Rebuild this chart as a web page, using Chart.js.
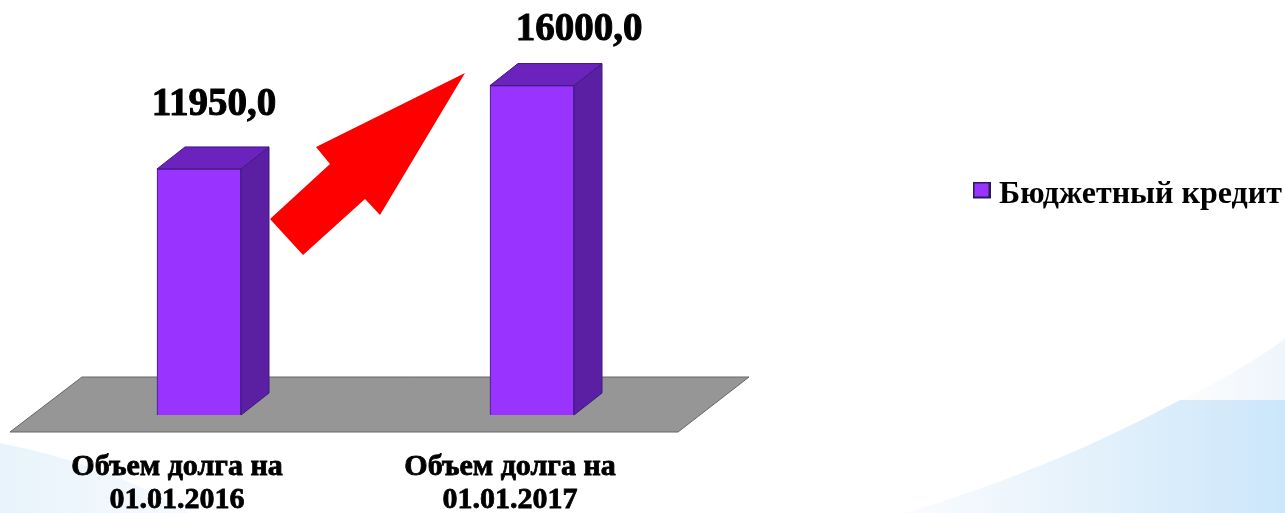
<!DOCTYPE html>
<html>
<head>
<meta charset="utf-8">
<style>
  html, body {margin: 0; padding: 0; background: #fff; overflow: hidden}
  #wrap {width: 1285px; height: 513px}
</style>
<script src="https://cdn.jsdelivr.net/npm/chart.js@4/dist/chart.umd.min.js"></script>
</head>
<body>
<div id="wrap"><canvas id="chart"></canvas></div>
<script>
const categories = [
  ['Объем долга на', '01.01.2016'],
  ['Объем долга на', '01.01.2017'],
]
const seriesName = 'Бюджетный кредит'
const seriesValues = [11950, 16000]

const FONT = '"Liberation Serif", serif'
const DEPTH_X = 28
const DEPTH_Y = 22

function poly(ctx, pts, fill, stroke) {
  ctx.beginPath()
  pts.forEach((p, i) => i ? ctx.lineTo(p[0], p[1]) : ctx.moveTo(p[0], p[1]))
  ctx.closePath()
  ctx.fillStyle = fill
  ctx.fill()
  if (stroke) {
    ctx.strokeStyle = stroke
    ctx.lineWidth = 1
    ctx.stroke()
  }
}

// legend marker as an image: lets the text sit closer than chart.js would put it,
// the empty lower part of the image lifts the square above the text centre
function legendMarker() {
  const c = document.createElement('canvas')
  c.width = 18
  c.height = 27
  const ctx = c.getContext('2d')
  ctx.fillStyle = '#2a1a55'
  ctx.fillRect(0, 0, 18, 17)
  ctx.fillStyle = '#9933ff'
  ctx.fillRect(2, 2, 14, 13)
  return c
}

// pale slide background behind the chart
const backdrop = {
  id: 'backdrop',
  beforeDraw(chart) {
    const ctx = chart.ctx
    ctx.save()
    let g = ctx.createLinearGradient(0, 0, 190, 0)
    g.addColorStop(0, '#e8f3fb')
    g.addColorStop(1, '#f6fafe')
    ctx.beginPath()
    ctx.moveTo(0, 443)
    ctx.quadraticCurveTo(110, 465, 190, 513)
    ctx.lineTo(0, 513)
    ctx.closePath()
    ctx.fillStyle = g
    ctx.fill()

    g = ctx.createLinearGradient(905, 0, 1285, 0)
    g.addColorStop(0, '#fafcfe')
    g.addColorStop(0.45, '#e6f2fb')
    g.addColorStop(1, '#cbe6fb')
    ctx.beginPath()
    ctx.moveTo(905, 513)
    ctx.quadraticCurveTo(1050, 470, 1180, 400)
    ctx.lineTo(1285, 400)
    ctx.lineTo(1285, 513)
    ctx.closePath()
    ctx.fillStyle = g
    ctx.fill()

    g = ctx.createLinearGradient(1180, 0, 1285, 0)
    g.addColorStop(0, '#fdfdfe')
    g.addColorStop(1, '#eef5fb')
    ctx.beginPath()
    ctx.moveTo(1180, 400)
    ctx.quadraticCurveTo(1235, 375, 1285, 339)
    ctx.lineTo(1285, 400)
    ctx.closePath()
    ctx.fillStyle = g
    ctx.fill()
    ctx.restore()
  },
}

// floor plane under the bars
const floor = {
  id: 'floor',
  beforeDatasetsDraw(chart) {
    const base = chart.scales.y.getPixelForValue(0)
    const ctx = chart.ctx
    ctx.save()
    poly(ctx, [[10, base + 17], [82, base - 38], [749, base - 38], [678, base + 17]],
        '#969696', '#666666')
    ctx.restore()
  },
}

// side and top faces, value labels and the red arrow
const extrude = {
  id: 'extrude',
  afterDatasetsDraw(chart) {
    const ctx = chart.ctx
    const labelShift = [[15, -64], [47, -56]]
    ctx.save()
    chart.getDatasetMeta(0).data.forEach((bar, i) => {
      const half = bar.width / 2
      const l = bar.x - half
      const r = bar.x + half
      const t = bar.y
      const b = bar.base
      poly(ctx, [[r, t], [r + DEPTH_X, t - DEPTH_Y], [r + DEPTH_X, b - DEPTH_Y], [r, b]],
          '#5b1fa3', '#3f1a80')
      poly(ctx, [[l, t], [l + DEPTH_X, t - DEPTH_Y], [r + DEPTH_X, t - DEPTH_Y], [r, t]],
          '#6c22bd', '#3f1a80')

      const text = seriesValues[i].toFixed(1).replace('.', ',')
      ctx.font = 'bold 39px ' + FONT
      ctx.textAlign = 'center'
      ctx.textBaseline = 'middle'
      ctx.fillStyle = '#000'
      ctx.strokeStyle = '#000'
      ctx.lineWidth = 1
      ctx.fillText(text, bar.x + labelShift[i][0], t + labelShift[i][1])
      ctx.strokeText(text, bar.x + labelShift[i][0], t + labelShift[i][1])
    })
    poly(ctx, [[465, 73], [316, 147], [330, 164], [270, 219], [303, 255], [365, 199], [380, 215]],
        '#ff0000')
    ctx.restore()
  },
}

// the legend sits far right of the plot, outside the layout boxes
const legendPlace = {
  id: 'legendPlace',
  afterLayout(chart) {
    const legend = chart.legend
    const w = legend.width
    const h = legend.height
    legend.left = 971
    legend.right = legend.left + w
    legend.top = 170
    legend.bottom = legend.top + h
  },
}

new Chart('chart', {
  type: 'bar',
  data: {
    labels: categories,
    datasets: [{
      label: seriesName,
      data: seriesValues,
      backgroundColor: '#9933ff',
      borderColor: '#3f1a80',
      borderWidth: 1,
      barThickness: 84,
    }],
  },
  options: {
    responsive: true,
    maintainAspectRatio: false,
    animation: false,
    layout: {padding: {left: 32.5, right: 586.5, top: 3.2, bottom: 0}},
    scales: {
      x: {
        border: {display: false},
        grid: {display: false},
        afterFit: scale => { scale.height = 98 },
        ticks: {
          color: '#000',
          font: {family: FONT, size: 30, weight: 'bold', lineHeight: 1.1},
          textStrokeColor: '#000',
          textStrokeWidth: 0.8,
          padding: 28,
          labelOffset: -22,
          maxRotation: 0,
          autoSkip: false,
        },
      },
      y: {display: false, min: 0, max: 20000},
    },
    plugins: {
      tooltip: {enabled: false},
      legend: {
        position: 'chartArea',
        align: 'start',
        labels: {
          color: '#000',
          font: {family: FONT, size: 32, weight: 'bold'},
          usePointStyle: true,
          pointStyle: legendMarker(),
          pointStyleWidth: 3,
          padding: 9,
        },
      },
    },
  },
  plugins: [backdrop, floor, extrude, legendPlace],
})
</script>
</body>
</html>
